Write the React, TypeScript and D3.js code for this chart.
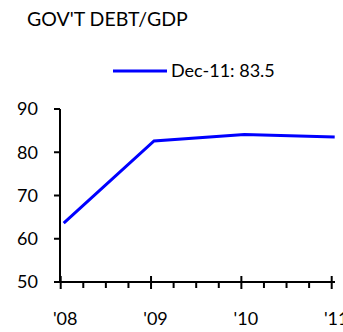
import React from "react";
import * as d3 from "d3";

const title = "GOV'T DEBT/GDP";
const years = ["'08", "'09", "'10", "'11"];
const debtValues = [63.6, 82.6, 84.1, 83.5];
const legendLabel = "Dec-11: 83.5";
const yTicks = [50, 60, 70, 80, 90];

const W = 343;
const H = 332;
const FONT = "Lato, 'Open Sans', sans-serif";

export default function App() {
  const x = d3.scaleLinear().domain([0, years.length - 1]).range([60.7, 331.7]);
  const y = d3.scaleLinear().domain([50, 90]).range([282, 109]);
  const pointOffset = 3;

  const line = d3
    .line<number>()
    .x((_, i) => x(i) + pointOffset)
    .y((d) => y(d));

  const minorTicks: number[] = [];
  for (let i = 0; i < years.length - 1; i++) {
    for (let q = 1; q < 4; q++) minorTicks.push(i + q / 4);
  }

  return (
    <svg
      width={W}
      height={H}
      style={{ position: "absolute", left: 0, top: 0, background: "#fff" }}
      fontFamily={FONT}
    >
      <text x={27} y={25.5} fontSize={19.5} fill="#000">
        {title}
      </text>

      {/* legend */}
      <line x1={113} x2={167} y1={71} y2={71} stroke="#0000ff" strokeWidth={3} />
      <text x={171} y={71} dy="0.35em" fontSize={18} fill="#000">
        {legendLabel}
      </text>

      {/* y axis */}
      <line x1={60} x2={60} y1={y(90)} y2={y(50)} stroke="#000" strokeWidth={2} />
      {yTicks.map((t) => (
        <g key={t}>
          <line x1={54} x2={60} y1={y(t)} y2={y(t)} stroke="#000" strokeWidth={2} />
          <text x={38} y={y(t)} dy="0.35em" textAnchor="end" fontSize={18} fill="#000">
            {t}
          </text>
        </g>
      ))}

      {/* x axis */}
      <line x1={55} x2={335} y1={y(50)} y2={y(50)} stroke="#000" strokeWidth={2} />
      {years.map((lab, i) => (
        <g key={lab}>
          <line x1={x(i)} x2={x(i)} y1={y(50) - 6} y2={y(50) + 7} stroke="#000" strokeWidth={2} />
          <text x={x(i) + 4.5} y={325} textAnchor="middle" fontSize={18} fill="#000">
            {lab}
          </text>
        </g>
      ))}
      {minorTicks.map((t) => (
        <line key={t} x1={x(t)} x2={x(t)} y1={y(50)} y2={y(50) + 6} stroke="#000" strokeWidth={2} />
      ))}

      <path d={line(debtValues) || ""} fill="none" stroke="#0000ff" strokeWidth={3} />
    </svg>
  );
}
